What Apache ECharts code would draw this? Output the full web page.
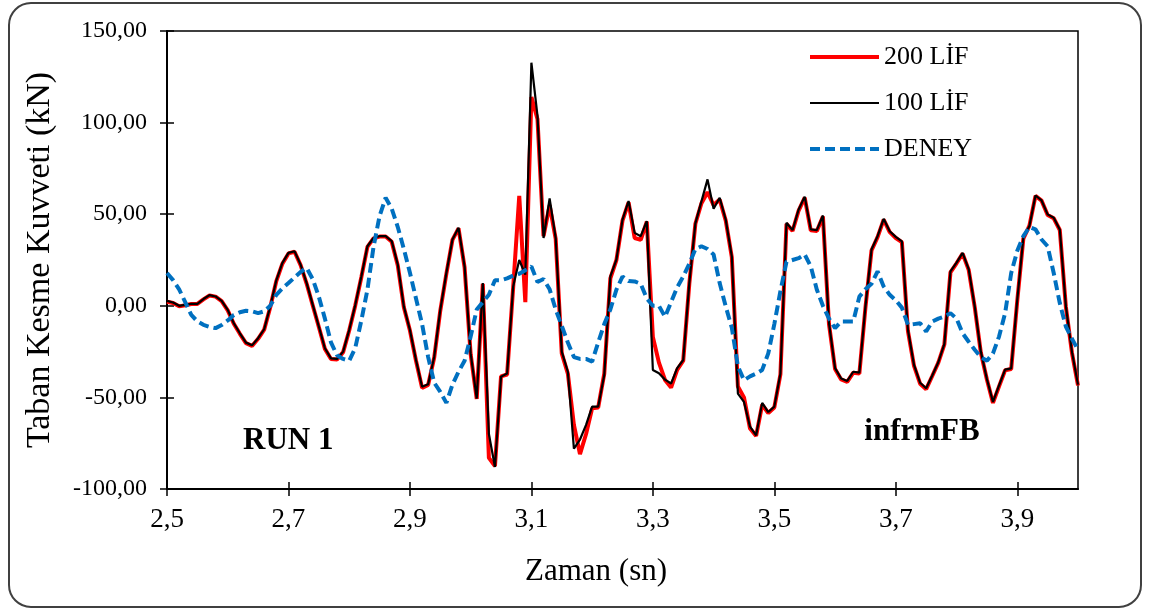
<!DOCTYPE html>
<html>
<head>
<meta charset="utf-8">
<title>Taban Kesme Kuvveti - RUN 1</title>
<script src="https://cdn.jsdelivr.net/npm/echarts@6/dist/echarts.min.js"></script>
<style>
  html, body { margin: 0; padding: 0; background: #ffffff; }
  #chart { width: 1149px; height: 614px; }
</style>
</head>
<body>
<div id="chart"></div>
<script>
// Sampling: one value every 0.01 s from 2.50 s to 4.00 s
const startTime = 2.5;
const timeStep = 0.01;

const seriesNames = ['200 LİF', '100 LİF', 'DENEY'];
const xTickValues = [2.5, 2.7, 2.9, 3.1, 3.3, 3.5, 3.7, 3.9];
const yTickValues = [-100, -50, 0, 50, 100, 150];

// Base shear force (kN), model with 200 fibres
const lif200 = [
  2.2, 1.5, -0.3, 0.3, 1.0, 1.0, 3.5, 5.6, 5.0, 2.5,
  -2.5, -9.8, -15.3, -20.4, -21.9, -18.0, -13.0, -0.8, 13.5, 23.0,
  28.6, 29.5, 22.2, 12.0, 0.2, -11.6, -23.5, -29.0, -29.3, -25.3,
  -13.5, 0.2, 15.6, 32.2, 36.8, 37.8, 37.8, 35.0, 22.0, -0.8,
  -13.5, -30.0, -44.8, -43.2, -28.2, -2.6, 17.5, 36.0, 42.3, 21.0,
  -26.5, -50.8, 12.0, -83.0, -87.5, -38.5, -37.5, 10.0, 60.0, 2.0,
  114.0, 102.0, 38.0, 55.0, 36.5, -26.0, -37.0, -65.0, -81.0, -70.0,
  -56.0, -55.5, -37.0, 15.0, 25.0, 46.5, 56.5, 37.0, 36.0, 46.0,
  -17.0, -31.0, -40.5, -44.6, -35.0, -30.0, 12.0, 44.8, 56.0, 62.0,
  55.0, 58.0, 46.5, 26.5, -44.0, -50.0, -67.0, -71.0, -54.0, -58.5,
  -55.5, -37.5, 44.8, 40.8, 52.0, 59.0, 41.2, 40.8, 48.8, -10.0,
  -34.5, -40.2, -41.5, -36.5, -37.0, -1.0, 30.2, 37.5, 47.0, 40.2,
  37.0, 34.7, -13.8, -32.8, -42.5, -45.5, -38.3, -31.0, -21.0, 18.3,
  23.2, 28.5, 19.6, -0.8, -25.5, -40.2, -53.0, -44.0, -35.2, -34.5,
  2.8, 36.6, 43.8, 60.0, 57.4, 49.6, 47.8, 41.4, -0.5, -25.5,
  -43.5
];

// Base shear force (kN), model with 100 fibres
const lif100 = [
  2.7, 1.8, 0.0, 0.5, 1.1, 1.1, 3.7, 5.8, 5.1, 2.7,
  -2.2, -9.5, -15.0, -20.1, -21.6, -17.7, -12.8, -0.4, 13.9, 23.4,
  28.9, 29.8, 22.5, 12.4, 0.5, -11.3, -23.2, -28.7, -29.0, -25.0,
  -13.2, 0.5, 16.0, 32.5, 37.0, 38.0, 38.0, 35.3, 22.5, -0.4,
  -13.2, -29.6, -44.2, -42.8, -27.8, -2.2, 17.9, 36.2, 42.6, 21.5,
  -26.0, -50.6, 12.4, -70.0, -88.0, -38.7, -37.0, 10.6, 25.0, 17.0,
  132.7, 103.8, 37.0, 58.6, 37.0, -25.0, -36.0, -78.0, -73.0, -65.0,
  -55.0, -55.0, -37.8, 16.0, 25.2, 47.0, 57.2, 39.8, 38.0, 46.2,
  -35.0, -36.8, -40.3, -42.4, -34.0, -29.6, 12.4, 45.0, 57.0, 69.0,
  53.0, 59.0, 47.0, 27.0, -47.9, -52.5, -66.0, -70.7, -53.0, -58.0,
  -55.0, -37.0, 45.3, 41.3, 52.6, 59.6, 41.7, 41.3, 49.3, -9.5,
  -34.0, -39.7, -41.0, -36.0, -36.5, -0.4, 30.7, 38.0, 47.5, 40.7,
  37.6, 35.2, -13.2, -32.3, -42.0, -45.0, -38.0, -30.8, -20.8, 18.8,
  23.6, 28.9, 20.0, -0.4, -25.0, -40.0, -52.5, -43.5, -34.8, -34.2,
  3.3, 37.0, 43.6, 60.2, 57.5, 49.9, 48.1, 41.7, 0.0, -25.0,
  -43.0
];

// Measured base shear force (kN), test
const deney = [
  17.9, 14.0, 9.0, 2.0, -5.0, -8.5, -10.4, -11.5, -12.2, -10.5,
  -8.0, -5.0, -3.5, -2.7, -3.0, -4.0, -3.0, 0.0, 6.0, 9.5,
  12.4, 15.5, 18.5, 20.7, 14.5, 5.0, -7.0, -20.0, -27.0, -29.0,
  -30.0, -23.0, -8.0, 8.8, 32.0, 49.0, 59.0, 53.0, 43.0, 31.0,
  18.0, 4.0, -10.0, -28.0, -42.0, -47.0, -53.0, -43.0, -36.0, -30.0,
  -16.8, -2.0, 2.0, 6.0, 14.0, 14.0, 15.0, 16.5, 17.5, 19.4,
  21.5, 13.0, 14.6, 9.0, -2.0, -11.0, -20.0, -28.0, -29.0, -29.0,
  -30.5, -20.0, -10.0, -2.0, 8.8, 16.0, 13.5, 13.3, 12.0, 4.0,
  0.0, 0.0, -6.0, 2.0, 10.0, 16.0, 23.0, 31.0, 32.5, 31.0,
  28.0, 12.4, -0.4, -12.0, -33.0, -40.6, -38.5, -37.0, -35.0, -26.0,
  -10.0, 8.0, 24.0, 25.0, 26.0, 28.0, 21.5, 8.8, 0.0, -7.0,
  -12.2, -8.6, -8.6, -8.6, 5.0, 9.0, 12.0, 18.8, 10.6, 6.0,
  3.0, -1.0, -10.4, -10.0, -9.5, -14.0, -8.6, -7.0, -5.9, -4.0,
  -7.0, -15.0, -19.6, -24.0, -28.0, -30.0, -26.0, -16.8, -4.0, 17.9,
  30.0, 38.0, 43.0, 41.7, 36.2, 32.5, 17.9, 1.5, -11.3, -18.0,
  -24.0
];

// pair each value with its sampling time
function withTime(values) {
  return values.map((v, i) => [+(startTime + i * timeStep).toFixed(2), v]);
}

const serif = 'Liberation Serif';
const fmtX = v => v.toFixed(1).replace('.', ',');
const fmtY = v => v.toFixed(2).replace('.', ',');

// line styles shared by the plotted series and their legend keys
const lineStyles = [
  { color: '#ff0000', width: 4 },
  { color: '#000000', width: 2.2 },
  { color: '#0070c0', width: 4, type: [10, 5] }
];

const chart = echarts.init(document.getElementById('chart'), null, { renderer: 'canvas' });

const tickStyle = { color: '#000', width: 1.5 };

chart.setOption({
  animation: false,
  backgroundColor: '#ffffff',
  grid: {
    left: 167, top: 31, right: 71, bottom: 125,
    show: true, borderColor: '#000', borderWidth: 1.5, backgroundColor: 'transparent'
  },
  legend: {
    orient: 'vertical',
    left: 803, top: 39,
    itemWidth: 69, itemHeight: 14, itemGap: 20,
    data: seriesNames.map((name, i) => ({ name: name, lineStyle: lineStyles[i] })),
    itemStyle: { opacity: 0, borderWidth: 0 },
    textStyle: { fontFamily: serif, fontSize: 26, color: '#000', lineHeight: 26 }
  },
  xAxis: [
    {
      type: 'value', min: 2.5, max: 4.0,
      axisLine: { show: true, onZero: false, lineStyle: { color: '#000', width: 2 } },
      axisTick: { show: true, inside: false, length: 7, customValues: xTickValues, lineStyle: tickStyle },
      axisLabel: { customValues: xTickValues, formatter: fmtX, fontFamily: serif, fontSize: 27, color: '#000', margin: 17 },
      splitLine: { show: false }
    },
    {
      type: 'value', min: 2.5, max: 4.0, position: 'bottom',
      axisLine: { show: false, onZero: false },
      axisTick: { show: true, inside: true, length: 7, customValues: xTickValues, lineStyle: tickStyle },
      axisLabel: { show: false },
      splitLine: { show: false }
    }
  ],
  yAxis: [
    {
      type: 'value', min: -100, max: 150,
      axisLine: { show: true, onZero: false, lineStyle: { color: '#000', width: 2 } },
      axisTick: { show: true, inside: false, length: 7, customValues: yTickValues, lineStyle: tickStyle },
      axisLabel: { customValues: yTickValues, formatter: fmtY, fontFamily: serif, fontSize: 24, color: '#000', margin: 20 },
      splitLine: { show: false }
    },
    {
      type: 'value', min: -100, max: 150, position: 'left',
      axisLine: { show: false, onZero: false },
      axisTick: { show: true, inside: true, length: 7, customValues: yTickValues, lineStyle: tickStyle },
      axisLabel: { show: false },
      splitLine: { show: false }
    }
  ],
  series: [
    {
      name: seriesNames[0], type: 'line', data: withTime(lif200),
      symbol: 'none', color: lineStyles[0].color,
      lineStyle: lineStyles[0], z: 2
    },
    {
      name: seriesNames[1], type: 'line', data: withTime(lif100),
      symbol: 'none', color: lineStyles[1].color,
      lineStyle: lineStyles[1], z: 3
    },
    {
      name: seriesNames[2], type: 'line', data: withTime(deney),
      symbol: 'none', color: lineStyles[2].color,
      lineStyle: lineStyles[2], z: 4
    }
  ],
  graphic: [
    {
      type: 'rect', z: -10, silent: true,
      shape: { x: 9, y: 3, width: 1132, height: 604, r: 22 },
      style: { fill: 'transparent', stroke: '#404040', lineWidth: 2 }
    },
    {
      type: 'text', x: 596, y: 572,
      style: { text: 'Zaman (sn)', font: '31px "Liberation Serif"', fill: '#000', align: 'center', verticalAlign: 'middle' }
    },
    {
      type: 'text', x: 40, y: 260, rotation: Math.PI / 2,
      style: { text: 'Taban Kesme Kuvveti (kN)', font: '34px "Liberation Serif"', fill: '#000', align: 'center', verticalAlign: 'middle' }
    },
    {
      type: 'text', x: 243, y: 441,
      style: { text: 'RUN 1', font: 'bold 31px "Liberation Serif"', fill: '#000', align: 'left', verticalAlign: 'middle' }
    },
    {
      type: 'text', x: 922, y: 432,
      style: { text: 'infrmFB', font: 'bold 31px "Liberation Serif"', fill: '#000', align: 'center', verticalAlign: 'middle' }
    }
  ]
});
</script>
</body>
</html>
